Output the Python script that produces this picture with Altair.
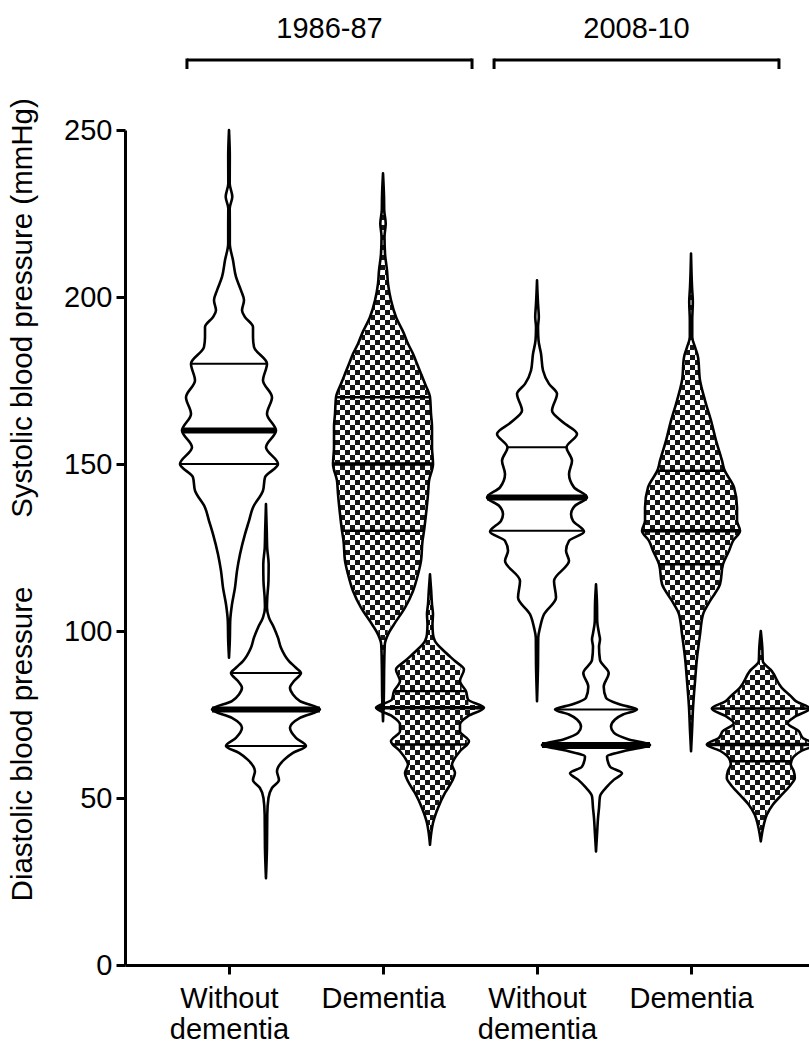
import json
import numpy as np
import pandas as pd
import altair as alt

# ---------------- data ----------------
x_labels = ["Without dementia", "Dementia", "Without dementia", "Dementia"]
periods = ["1986-87", "2008-10"]

# violin profiles: blood-pressure value (mmHg) and half-width of the density (px)
sys1_v = [92, 97, 103, 108, 113, 118, 123, 129, 133, 137, 142, 146, 150, 155, 160, 165, 170, 175, 180, 185, 188, 191, 194, 196, 199, 202, 206, 211, 216, 222, 226.5, 230, 234, 242, 250]
sys1_w = [0, 0.8, 1.2, 3, 6, 8, 11, 16, 20, 24, 34, 36, 49, 37, 47, 38, 43, 34, 38, 25, 24, 24, 16, 13, 15, 12, 7, 4, 0.8, 0.8, 0.7, 3.3, 0.7, 0.8, 0]

dia1_v = [26, 35, 45, 50, 53, 55.4, 58, 61.4, 63.5, 65.6, 68, 71, 74, 76.5, 79, 81, 83, 85, 87.4, 89, 91, 95, 98, 101, 104, 107, 110, 115, 120, 125, 130, 138]
dia1_w = [0, 1, 1.3, 2.5, 6, 13, 11, 18, 27, 40, 30, 24, 34, 54, 34, 27, 24, 28, 35, 30, 23, 15, 12, 8, 3, 1, 1.3, 2.5, 2.7, 1.2, 0.8, 0]

sys2_v = [73, 80, 90, 96, 99, 102, 107, 112, 117, 121, 127, 130, 135, 141, 145, 150, 155, 161, 165, 170, 174, 177, 180, 183, 186, 189, 194, 199, 204, 208, 213, 218, 222, 226, 230, 237]
sys2_w = [0, 0.8, 1.2, 1.8, 5, 11, 22, 30, 35, 38, 39.5, 41, 43, 45, 46, 50, 49, 49, 48, 47, 42, 38, 34, 30, 25, 21, 13, 8, 5, 4, 2, 1.5, 2.7, 1.2, 1, 0]

dia2_v = [36, 40, 42.5, 47, 51.5, 55, 57.5, 60, 62, 64, 67, 70, 72, 74.5, 77, 79.5, 82, 85, 88.5, 91, 94, 97, 99, 102, 105, 108, 112, 117]
dia2_w = [0, 1.5, 3, 8, 15, 22, 25, 22, 25, 30, 39, 30, 30, 38, 54, 38, 36, 30, 34, 25, 14, 5, 3, 2.5, 3, 2, 1.2, 0]

sys3_v = [79, 90, 98, 101, 105, 110, 115, 121, 124, 127, 129.7, 133, 135, 137.5, 140, 143, 147, 151, 155, 159, 162.5, 166, 171, 174, 178, 183, 187, 191, 194, 198, 205]
sys3_w = [0, 1, 1.2, 3, 7, 19, 17, 32, 29, 32, 47, 36, 34, 38, 50, 37, 32, 35, 29.5, 40, 26, 15, 20, 12, 6, 4, 1.5, 1, 1.8, 1, 0]

dia3_v = [34, 40, 44, 47, 50.5, 53.4, 55.5, 57.4, 59.4, 62.4, 64.2, 65.9, 67.6, 69.5, 71.3, 73.5, 75, 76.5, 78, 80, 83.3, 87.4, 91.3, 95.3, 97.5, 99.3, 103, 108, 114]
dia3_w = [0, 1.2, 2, 3, 4, 11, 18, 26, 14, 11, 30, 54, 32, 18, 15, 19, 27, 41, 24, 10, 7.7, 12.7, 4, 3, 4, 3, 1.2, 1, 0]

sys4_v = [64, 70, 77, 85, 92, 99, 105, 109, 114, 120, 124, 127, 130, 133, 137, 143, 148.5, 151, 157, 163, 169, 175, 182, 185, 188, 193, 198.5, 203, 213]
sys4_w = [0, 1, 2, 4, 6, 9, 12, 19, 29, 32, 38, 42, 49, 46, 46, 43, 33, 31, 25, 20, 14, 9, 7, 4, 1.2, 1.2, 1.8, 1, 0]

dia4_v = [37, 42, 45, 48, 51, 54, 56, 58, 60, 62, 64, 66, 68, 70, 72.4, 74.5, 76.8, 79, 80.5, 83, 88, 91, 95, 100]
dia4_w = [0, 3, 6, 12, 21, 30, 34, 33, 30, 32, 40, 54, 42, 38, 27, 35, 49, 35, 30, 21, 11, 2, 1.5, 0]

# quartiles / medians (mmHg)
sys_q1 = [150, 130, 130, 120]
sys_med = [160, 150, 140, 130]
sys_q3 = [180, 170, 155, 148]
dia_q1 = [65.6, 66, 65, 61]
dia_med = [76.5, 77, 65.9, 66]
dia_q3 = [87.4, 82, 76.5, 76.8]

# ---------------- layout ----------------
W, H = 684, 835
XMIN, XMAX = 0.3247, 4.766
YMIN, YMAX = 0, 250
PXX = W / (XMAX - XMIN)
PXY = H / (YMAX - YMIN)
FONT = "Liberation Sans"
FS = 29

sys_pos = [1, 2, 3, 4]
dia_pos = [1.24, 2.305, 3.383, 4.453]
checkered = [False, True, False, True]

violins = []
sys_profiles = [(sys1_v, sys1_w), (sys2_v, sys2_w), (sys3_v, sys3_w), (sys4_v, sys4_w)]
dia_profiles = [(dia1_v, dia1_w), (dia2_v, dia2_w), (dia3_v, dia3_w), (dia4_v, dia4_w)]
for i in range(4):
    violins.append(dict(id=f"s{i}", c=sys_pos[i], prof=sys_profiles[i], chk=checkered[i],
                        q=[sys_q1[i], sys_med[i], sys_q3[i]]))
    violins.append(dict(id=f"d{i}", c=dia_pos[i], prof=dia_profiles[i], chk=checkered[i],
                        q=[dia_q1[i], dia_med[i], dia_q3[i]]))


def mono_slopes(x, y):
    n = len(x)
    h = np.diff(x)
    s = np.diff(y) / h
    m = np.zeros(n)
    for i in range(1, n - 1):
        h0, h1 = h[i - 1], h[i]
        s0, s1 = s[i - 1], s[i]
        p = (s0 * h1 + s1 * h0) / (h0 + h1)
        m[i] = (np.sign(s0) + np.sign(s1)) * min(abs(s0), abs(s1), 0.5 * abs(p))
    m[0] = (3 * s[0] - m[1]) / 2
    m[-1] = (3 * s[-1] - m[-2]) / 2
    return m


def mono_eval(x, y, m, xq):
    xq = np.atleast_1d(np.asarray(xq, float))
    i = np.clip(np.searchsorted(x, xq) - 1, 0, len(x) - 2)
    h = x[i + 1] - x[i]
    t = (xq - x[i]) / h
    h00 = 2 * t**3 - 3 * t**2 + 1
    h10 = t**3 - 2 * t**2 + t
    h01 = -2 * t**3 + 3 * t**2
    h11 = t**3 - t**2
    out = h00 * y[i] + h10 * h * m[i] + h01 * y[i + 1] + h11 * h * m[i + 1]
    out[(xq < x[0]) | (xq > x[-1])] = 0
    return np.maximum(out, 0)


area_rows, cell_rows, line_rows = [], [], []
CELL = 5.0
dyc = CELL / PXY
dxc = CELL / PXX
for v in violins:
    vv = np.asarray(v["prof"][0], float)
    ww = np.asarray(v["prof"][1], float)
    m = mono_slopes(vv, ww)
    c = v["c"]
    for a, b in zip(vv, ww):
        area_rows.append(dict(id=v["id"], val=a, xl=c - b / PXX, xr=c + b / PXX))
    # quartile / median lines
    for k, qv in enumerate(v["q"]):
        hw = float(mono_eval(vv, ww, m, qv)[0]) / PXX
        if k == 1:
            sw = 3.6 if v["chk"] else 6.0
        else:
            sw = 2.4 if v["chk"] else 2.0
        line_rows.append(dict(id=v["id"], val=qv, xl=c - hw, xr=c + hw, sw=sw))
    # checkered texture
    if v["chk"]:
        k0 = int(np.floor(vv[0] / dyc))
        k1 = int(np.ceil(vv[-1] / dyc))
        for k in range(k0, k1):
            y0 = max(k * dyc, vv[0])
            y1 = min((k + 1) * dyc, vv[-1])
            if y1 <= y0:
                continue
            hw = mono_eval(vv, ww, m, np.linspace(y0, y1, 7)).min() / PXX
            if hw <= 0:
                continue
            left, right = c - hw, c + hw
            j0 = int(np.floor((left - XMIN) / dxc))
            j1 = int(np.ceil((right - XMIN) / dxc))
            for j in range(j0, j1):
                if (j + k) % 2:
                    continue
                xa = max(XMIN + j * dxc, left)
                xb = min(XMIN + (j + 1) * dxc, right)
                if xb - xa > 1e-6:
                    cell_rows.append(dict(x=xa, x2=xb, y=y0, y2=y1))

areas = pd.DataFrame(area_rows)
cells = pd.DataFrame(cell_rows)
lines = pd.DataFrame(line_rows)

xs = alt.Scale(domain=[XMIN, XMAX], nice=False, zero=False)
ys = alt.Scale(domain=[YMIN, YMAX], nice=False, zero=False)

label_expr = " : ".join(
    f"datum.value == {i + 1} ? {json.dumps(l.split(' '))}" for i, l in enumerate(x_labels)
) + " : ''"

x_axis = alt.Axis(values=[1, 2, 3, 4], labelExpr=label_expr, title=None, grid=False,
                  domainColor="black", domainWidth=3, tickColor="black", tickWidth=3,
                  tickSize=9, labelFont=FONT, labelFontSize=FS, labelColor="black",
                  labelPadding=10, labelLineHeight=31)
y_axis = alt.Axis(values=[0, 50, 100, 150, 200, 250], title=None, grid=False,
                  domainColor="black", domainWidth=3, tickColor="black", tickWidth=3,
                  tickSize=9, labelFont=FONT, labelFontSize=FS, labelColor="black",
                  labelPadding=4)

fill_layer = alt.Chart(areas).mark_area(
    orient="horizontal", interpolate="monotone", color="white", strokeWidth=0
).encode(
    y=alt.Y("val:Q", scale=ys, axis=y_axis),
    x=alt.X("xl:Q", scale=xs, axis=x_axis, stack=None),
    x2="xr:Q",
    detail="id:N",
)

cell_layer = alt.Chart(cells).mark_rect(color="#161616", strokeWidth=0).encode(
    x=alt.X("x:Q", scale=xs), x2="x2:Q",
    y=alt.Y("y:Q", scale=ys), y2="y2:Q",
)

outline_layer = alt.Chart(areas).mark_area(
    orient="horizontal", interpolate="monotone", fillOpacity=0,
    stroke="black", strokeWidth=2.6, strokeJoin="round"
).encode(
    y=alt.Y("val:Q", scale=ys),
    x=alt.X("xl:Q", scale=xs, stack=None),
    x2="xr:Q",
    detail="id:N",
)

line_layer = alt.Chart(lines).mark_rule(color="black").encode(
    x=alt.X("xl:Q", scale=xs), x2="xr:Q",
    y=alt.Y("val:Q", scale=ys),
    strokeWidth=alt.StrokeWidth("sw:Q", scale=None),
)

# period brackets above the plot
br = pd.DataFrame({"period": periods, "x0": [0.727, 2.721], "x1": [2.578, 4.571]})
br["xm"] = (br["x0"] + br["x1"]) / 2
br_h = alt.Chart(br).mark_rule(color="black", strokeWidth=3).encode(
    x=alt.X("x0:Q", scale=xs), x2="x1:Q", y=alt.value(-70))
br_l = alt.Chart(br).mark_rule(color="black", strokeWidth=3).encode(
    x=alt.X("x0:Q", scale=xs), y=alt.value(-71.5), y2=alt.value(-61))
br_r = alt.Chart(br).mark_rule(color="black", strokeWidth=3).encode(
    x=alt.X("x1:Q", scale=xs), y=alt.value(-71.5), y2=alt.value(-61))
br_t = alt.Chart(br).mark_text(font=FONT, fontSize=FS, color="black", baseline="middle").encode(
    x=alt.X("xm:Q", scale=xs), y=alt.value(-101), text="period:N")

titles = pd.DataFrame({"t": ["Systolic blood pressure (mmHg)", "Diastolic blood pressure"],
                       "py": [178, 614]})
title_layer = alt.Chart(titles).mark_text(
    font=FONT, fontSize=29.5, color="black", angle=270, baseline="middle", align="center"
).encode(x=alt.value(-102), y=alt.Y("py:Q", scale=None), text="t:N")

chart = alt.layer(
    fill_layer, cell_layer, outline_layer, line_layer, br_h, br_l, br_r, br_t, title_layer
).properties(
    width=W, height=H,
    padding={"left": 125, "top": 130, "right": 0, "bottom": 81},
    autosize=alt.AutoSizeParams(type="none"),
    background="white",
).configure_view(stroke=None)

chart.save("out.html", embed_options={"renderer": "svg", "actions": False})
